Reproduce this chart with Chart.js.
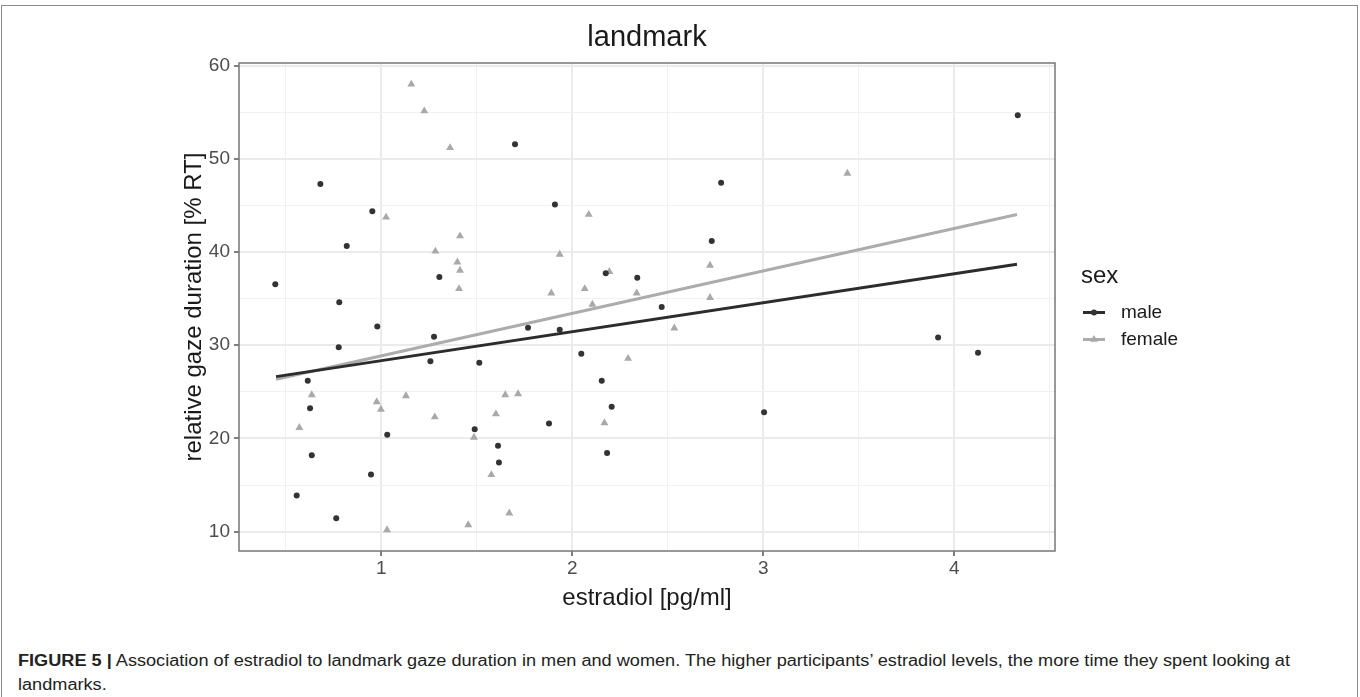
<!DOCTYPE html>
<html>
<head>
<meta charset="utf-8">
<script src="https://cdn.jsdelivr.net/npm/chart.js@4.4.0/dist/chart.umd.min.js"></script>
<style>
  html, body { margin: 0; padding: 0; background: #fff; width: 1360px; height: 697px; overflow: hidden; }
  #frame { position: absolute; left: 1px; top: 5px; width: 1357px; height: 720px; border: 1px solid #8a8a8a; box-sizing: border-box; }
  #c { position: absolute; left: 0; top: 0; }
  .cap { position: absolute; left: 18px; font-family: 'Liberation Sans', Arial, sans-serif; font-size: 16px; color: #222;
         white-space: nowrap; transform-origin: 0 50%; line-height: 20px; }
</style>
</head>
<body>
<div id="frame"></div>
<canvas id="c" width="1360" height="625"></canvas>
<div class="cap" id="cap1" style="top:651px"><b>FIGURE 5 |</b> Association of estradiol to landmark gaze duration in men and women. The higher participants’ estradiol levels, the more time they spent looking at</div>
<div class="cap" id="cap2" style="top:675px">landmarks.</div>
<script>
// ---------- data ----------
const plotTitle = 'landmark';
const xAxisTitle = 'estradiol [pg/ml]';
const yAxisTitle = 'relative gaze duration [% RT]';
const legendTitle = 'sex';
const seriesNames = ['male', 'female'];

const xTickValues = [0.5, 1, 1.5, 2, 2.5, 3, 3.5, 4, 4.5];
const xTickLabels = ['', '1', '', '2', '', '3', '', '4', ''];
const yTickValues = [10, 15, 20, 25, 30, 35, 40, 45, 50, 55, 60];
const yTickLabels = ['10', '', '20', '', '30', '', '40', '', '50', '', '60'];

const maleX = [0.445, 0.557, 0.615, 0.627, 0.636, 0.681, 0.764, 0.777, 0.780, 0.819,
               0.946, 0.953, 0.979, 1.031, 1.257, 1.276, 1.304, 1.489, 1.513, 1.611,
               1.616, 1.700, 1.768, 1.878, 1.909, 1.934, 2.047, 2.154, 2.175, 2.182,
               2.206, 2.340, 2.468, 2.730, 2.779, 3.004, 3.915, 4.124, 4.332];
const maleY = [36.53, 13.87, 26.20, 23.23, 18.20, 47.31, 11.44, 29.78, 34.62, 40.65,
               16.13, 44.38, 32.01, 20.40, 28.28, 30.90, 37.31, 20.97, 28.11, 19.22,
               17.42, 51.55, 31.87, 21.61, 45.10, 31.66, 29.08, 26.20, 37.71, 18.43,
               23.41, 37.25, 34.09, 41.18, 47.42, 22.80, 30.83, 29.18, 54.67];

const femaleX = [0.571, 0.636, 0.976, 0.998, 1.025, 1.030, 1.129, 1.157, 1.225, 1.283,
                 1.280, 1.360, 1.398, 1.412, 1.412, 1.407, 1.455, 1.485, 1.576, 1.600,
                 1.649, 1.670, 1.716, 1.890, 1.934, 2.065, 2.086, 2.105, 2.168, 2.194,
                 2.292, 2.337, 2.534, 2.721, 2.721, 3.440];
const femaleY = [21.15, 24.67, 23.91, 23.12, 43.73, 10.18, 24.56, 58.00, 55.13, 40.08,
                 22.30, 51.18, 38.92, 41.72, 38.03, 36.06, 10.72, 20.11, 16.10, 22.62,
                 24.67, 11.98, 24.77, 35.59, 39.75, 36.06, 44.02, 34.38, 21.66, 37.89,
                 28.57, 35.59, 31.83, 38.57, 35.10, 48.43];

const maleFitX = [0.449, 4.328];
const maleFitY = [26.63, 38.68];
const femaleFitX = [0.449, 4.328];
const femaleFitY = [26.34, 44.02];

// ---------- styles ----------
const FONT = "'Liberation Sans', Arial, sans-serif";
const maleColor = '#333333';
const femaleColor = '#a9a9a9';
const maleLineColor = '#2c2c2c';
const femaleLineColor = '#acacac';

Chart.defaults.font.family = FONT;

const toPts = (xs, ys) => xs.map((x, i) => ({ x: x, y: ys[i] }));

function drawKeyPoint(ctx, style, x, y, color) {
  ctx.fillStyle = color;
  ctx.beginPath();
  if (style === 'circle') {
    ctx.arc(x, y, 3, 0, Math.PI * 2);
  } else {
    const r = 4.4;
    ctx.moveTo(x, y - r);
    ctx.lineTo(x + r * 0.866, y + r * 0.5);
    ctx.lineTo(x - r * 0.866, y + r * 0.5);
    ctx.closePath();
  }
  ctx.fill();
}

const panelAndLegend = {
  id: 'panelAndLegend',
  afterDraw(chart) {
    const { ctx, chartArea: a } = chart;
    ctx.save();
    ctx.strokeStyle = '#777777';
    ctx.lineWidth = 1.5;
    ctx.strokeRect(a.left, a.top, a.right - a.left, a.bottom - a.top);

    // legend
    ctx.textAlign = 'left';
    ctx.textBaseline = 'middle';
    ctx.fillStyle = '#1a1a1a';
    ctx.font = '24px ' + FONT;
    ctx.fillText(legendTitle, 1081, 276);
    const keys = [
      { name: seriesNames[0], y: 312.5, line: maleLineColor, pt: maleColor, style: 'circle' },
      { name: seriesNames[1], y: 339.5, line: femaleLineColor, pt: femaleColor, style: 'triangle' }
    ];
    ctx.font = '19px ' + FONT;
    keys.forEach(k => {
      ctx.strokeStyle = k.line;
      ctx.lineWidth = 3;
      ctx.beginPath();
      ctx.moveTo(1083, k.y);
      ctx.lineTo(1105, k.y);
      ctx.stroke();
      drawKeyPoint(ctx, k.style, 1094, k.y, k.pt);
      ctx.fillStyle = '#1a1a1a';
      ctx.fillText(k.name, 1121, k.y + 0.5);
    });
    ctx.restore();
  }
};

const isMajorX = v => Math.abs(v - Math.round(v)) < 1e-9;
const isMajorY = v => Math.abs(v % 10) < 1e-9;

new Chart(document.getElementById('c'), {
  type: 'scatter',
  data: {
    datasets: [
      { type: 'line', label: seriesNames[0] + ' fit', data: toPts(maleFitX, maleFitY), borderColor: maleLineColor,
        borderWidth: 3, pointRadius: 0, fill: false, order: 0 },
      { type: 'line', label: seriesNames[1] + ' fit', data: toPts(femaleFitX, femaleFitY), borderColor: femaleLineColor,
        borderWidth: 3, pointRadius: 0, fill: false, order: 0 },
      { label: seriesNames[0], data: toPts(maleX, maleY), pointStyle: 'circle', pointRadius: 3,
        backgroundColor: maleColor, borderWidth: 0, order: 1 },
      { label: seriesNames[1], data: toPts(femaleX, femaleY), pointStyle: 'triangle', pointRadius: 4.6,
        backgroundColor: femaleColor, borderWidth: 0, order: 1 }
    ]
  },
  options: {
    responsive: false,
    animation: false,
    devicePixelRatio: 1,
    layout: { padding: { left: 180, right: 305, top: 0, bottom: 4 } },
    plugins: {
      legend: { display: false },
      tooltip: { enabled: false },
      title: { display: true, text: plotTitle, fullSize: false, color: '#1a1a1a',
               font: { size: 29, weight: 'normal' }, padding: { top: 20.6, bottom: 7.6 } }
    },
    scales: {
      x: {
        type: 'linear', min: 0.255, max: 4.527,
        afterBuildTicks: s => { s.ticks = xTickValues.map(v => ({ value: v })); },
        afterFit: s => { s.height = 70; },
        ticks: { autoSkip: false, maxRotation: 0, padding: 1, color: '#4d4d4d', font: { size: 19 },
                 callback: (v, i) => xTickLabels[i] },
        grid: {
          color: c => (c.tick && isMajorX(c.tick.value)) ? '#ebebeb' : '#f1f1f1',
          lineWidth: c => (c.tick && isMajorX(c.tick.value)) ? 2 : 1,
          tickLength: 5,
          tickColor: c => (c.tick && isMajorX(c.tick.value)) ? '#555555' : 'rgba(0,0,0,0)',
          tickWidth: 1.5
        },
        border: { display: false },
        title: { display: true, text: xAxisTitle, color: '#1a1a1a', font: { size: 24 }, padding: { top: 0, bottom: 8.6 } }
      },
      y: {
        type: 'linear', min: 7.92, max: 60.28,
        afterBuildTicks: s => { s.ticks = yTickValues.map(v => ({ value: v })); },
        afterFit: s => { s.width = 59; },
        ticks: { autoSkip: false, padding: 4, color: '#4d4d4d', font: { size: 19 },
                 callback: (v, i) => yTickLabels[i] },
        grid: {
          color: c => (c.tick && isMajorY(c.tick.value)) ? '#ebebeb' : '#f1f1f1',
          lineWidth: c => (c.tick && isMajorY(c.tick.value)) ? 2 : 1,
          tickLength: 5,
          tickColor: c => (c.tick && isMajorY(c.tick.value)) ? '#555555' : 'rgba(0,0,0,0)',
          tickWidth: 1.5
        },
        border: { display: false },
        title: { display: true, text: yAxisTitle, color: '#1a1a1a', font: { size: 24 }, padding: { top: 0, bottom: 0 } }
      }
    }
  },
  plugins: [panelAndLegend]
});

// fit caption line width to reference
function fitCaption() {
  const c1 = document.getElementById('cap1');
  const c2 = document.getElementById('cap2');
  c1.style.transform = 'none';
  const w = c1.getBoundingClientRect().width;
  const s = 1272 / w;
  c1.style.transform = 'scaleX(' + s + ')';
  c2.style.transform = 'scaleX(' + s + ')';
}
fitCaption();
if (document.fonts && document.fonts.ready) document.fonts.ready.then(fitCaption);
</script>
</body>
</html>
